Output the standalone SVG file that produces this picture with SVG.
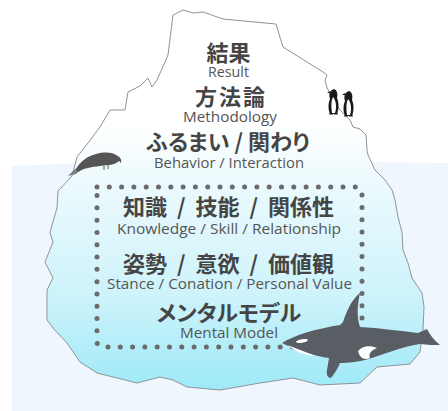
<svg xmlns="http://www.w3.org/2000/svg" width="448" height="411" viewBox="0 0 448 411">
  <defs>
    <linearGradient id="iceFill" gradientUnits="userSpaceOnUse" x1="0" y1="10" x2="0" y2="392">
      <stop offset="0" stop-color="#ffffff"/>
      <stop offset="0.3" stop-color="#ffffff"/>
      <stop offset="0.48" stop-color="#e9f9fd"/>
      <stop offset="0.75" stop-color="#cdf3fb"/>
      <stop offset="1" stop-color="#9de9f7"/>
    </linearGradient>
    <g id="penguin">
      <path d="M4,2 C1,4 1,8 2,11 C0,15 0,22 2,26 L9,26 C11,21 11,14 9,10 C10,6 9,2 6,1 Z" fill="#1a1a1a"/>
      <path d="M2,3 L-1,5 L2,5 Z" fill="#1a1a1a"/>
      <path d="M5,9 C8,12 9,19 7,25 L4,25 C3,19 3,13 5,9 Z" fill="#ffffff"/>
      <path d="M1,26 L5,26 M6,26 L10,26" stroke="#1a1a1a" stroke-width="1.2"/>
    </g>
  </defs>
  <style>
    .ice { fill: url(#iceFill); stroke: #8f9498; stroke-width: 1; stroke-linejoin: round; }
    .jp { font-family: "Noto Sans CJK JP", sans-serif; font-size: 22px; font-weight: 700; fill: #454545; text-anchor: middle; font-feature-settings: "palt"; }
    .wide { word-spacing: 5px; }
    .en { font-family: "Open Sans", "Noto Sans", sans-serif; font-size: 15px; fill: #555555; text-anchor: middle; }
    .dots { fill: none; stroke: #6b6b6b; stroke-width: 5; stroke-linecap: round; stroke-dasharray: 0 12.3; }
    .orca { fill: #595e65; }
    .patch { fill: #ffffff; }
  </style>

  <rect width="448" height="411" fill="#ffffff"/>

  <!-- sea -->
  <path id="sea" d="M12,166 C120,160 330,161 448,163 L448,411 L12,411 Z" fill="#eff6fd"/>

  <!-- iceberg -->
  <path id="iceberg" class="ice" d="M173,15 L183,10 L193,13 L203,12 L223,19 L276,24 L283,47 L323,72 L327,75 L325,80 L327,88 L340,110 L350,120 L353,127 L360,129 L366,135 L367,150 L368,155 L375,170 L385,180 L392,190 L395,200 L398,217 L402,232 L403,250 L408,263 L412,278 L422,293 L424,307 L423,330 L420,352 L410,364 L377,367 L360,383 L320,385 L293,378 L260,383 L220,390 L187,387 L173,380 L160,377 L137,383 L117,378 L97,373 L80,362 L67,343 L53,328 L47,320 L47,290 L53,278 L45,262 L53,242 L50,233 L52,225 L57,208 L58,191 L72,176 L77,157 L88,143 L100,127 L110,110 L125,110 L128,92 L140,86 L148,78 L152,87 L157,80 L168,55 Z"/>

  <!-- dotted frame around the deeper layers -->
  <g id="frame">
    <path class="dots" d="M97,187 L356,187 Q362,187 362,193 L362,347 L103,347 Q97,347 97,341 Z"/>
  </g>

  <!-- labels -->
  <g id="result">
    <text class="jp" x="228.5" y="61">結果</text>
    <text class="en" x="228.5" y="77" textLength="41" lengthAdjust="spacingAndGlyphs">Result</text>
  </g>
  <g id="methodology">
    <text class="jp" x="231" y="105" letter-spacing="2">方法論</text>
    <text class="en" x="230" y="122" textLength="94" lengthAdjust="spacingAndGlyphs">Methodology</text>
  </g>
  <g id="behavior">
    <text class="jp" x="228" y="150">ふるまい / 関わり</text>
    <text class="en" x="229" y="168" textLength="150" lengthAdjust="spacingAndGlyphs">Behavior / Interaction</text>
  </g>
  <g id="knowledge">
    <text class="jp wide" x="228.5" y="215">知識 / 技能 / 関係性</text>
    <text class="en" x="229" y="234" textLength="224" lengthAdjust="spacingAndGlyphs">Knowledge / Skill / Relationship</text>
  </g>
  <g id="stance">
    <text class="jp wide" x="228.5" y="272">姿勢 / 意欲 / 価値観</text>
    <text class="en" x="229.5" y="289" textLength="245" lengthAdjust="spacingAndGlyphs">Stance / Conation / Personal Value</text>
  </g>
  <g id="mental-model">
    <text class="jp" x="229" y="321">メンタルモデル</text>
    <text class="en" x="229" y="338" textLength="98" lengthAdjust="spacingAndGlyphs">Mental Model</text>
  </g>

  <!-- penguins on the ledge -->
  <g id="penguins">
    <use href="#penguin" x="328" y="88"/>
    <use href="#penguin" x="343" y="90"/>
  </g>

  <!-- bird on the left shoulder -->
  <g id="bird">
    <path d="M68,176 L73,171 L80,165 L83,167 L76,174 Z" fill="#7a7d80"/>
    <path d="M76,169 C80,162 87,156 96,154 C104,152 111,152 116,155 C120,157 122,159 121,163 L119,161 C117,163 113,165 108,165 L100,166 C92,167 84,168 78,172 Z" fill="#555555"/>
    <path d="M104,166 L104,170 M108,165 L108,169" stroke="#555555" stroke-width="1"/>
  </g>

  <!-- orca -->
  <g id="orca">
    <path class="orca" d="M282,343 C295,335 315,329 340,325 L343,322 C347,310 352,299 360,293 C358,303 356,315 360,327 C380,328 400,331 418,333 L427,329 C430,335 434,340 440,345 C434,345 428,345 420,344 C405,346 390,352 372,358 C360,362 348,363 340,363 C338,368 335,373 331,378 C328,378 326,375 327,370 L329,358 C315,356 300,352 282,343 Z"/>
    <ellipse class="patch" cx="302" cy="341" rx="6" ry="1.8" transform="rotate(-10 302 341)"/>
    <path class="patch" d="M287,345 C297,349 306,352 316,356 C305,356 295,351 287,345 Z"/>
    <path class="patch" d="M358,351 C362,346 370,345 377,348 C372,350 368,353 370,358 C365,360 360,359 358,351 Z"/>
  </g>
</svg>
